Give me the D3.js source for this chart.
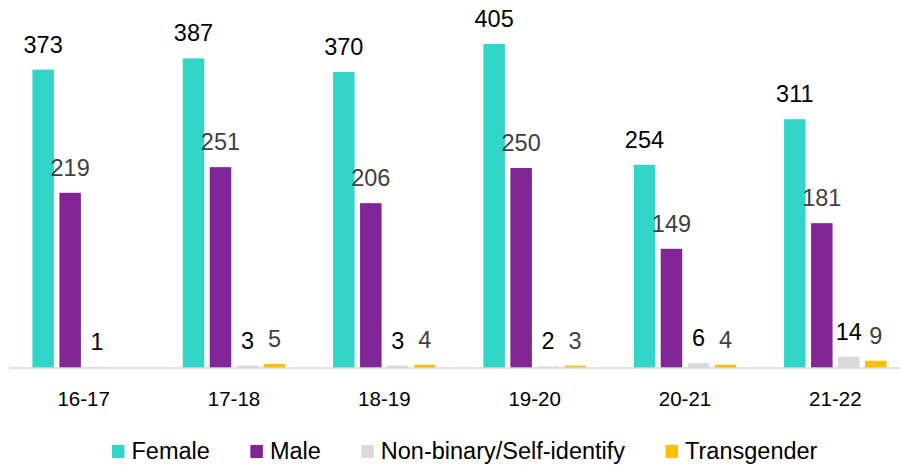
<!DOCTYPE html>
<html>
<head>
<meta charset="utf-8">
<script src="https://cdn.jsdelivr.net/npm/d3@7"></script>
<style>
  html, body { margin: 0; padding: 0; background: #fff; }
  svg { display: block; font-family: "Liberation Sans", Arial, sans-serif; }
</style>
</head>
<body>
<svg id="chart" width="900" height="465"></svg>
<script>
// Academic years on the x axis
const years = ["16-17", "17-18", "18-19", "19-20", "20-21", "21-22"];

// Counts per gender group
const female      = [373, 387, 370, 405, 254, 311];
const male        = [219, 251, 206, 250, 149, 181];
const nonBinary   = [1, 3, 3, 2, 6, 14];
const transgender = [null, 5, 4, 3, 4, 9];

const seriesNames  = ["Female", "Male", "Non-binary/Self-identify", "Transgender"];
const seriesValues = [female, male, nonBinary, transgender];
const seriesColors = ["#31d6c8", "#7f2596", "#d9d9d9", "#ffc000"];
const labelColors  = ["#000000", "#404040", "#000000", "#404040"];

const svg = d3.select("#chart");
const baseline = 368;

const x0 = d3.scaleBand().domain(years).range([8.5, 910.5]).padding(0);
const x1 = d3.scaleBand().domain(d3.range(seriesNames.length))
  .range([23.9, 126.4]).paddingInner(0.2037).paddingOuter(0);
const y = d3.scaleLinear().domain([0, 460]).range([baseline, 0]);

// Bars and their value labels
const groups = svg.append("g").selectAll("g")
  .data(years)
  .join("g")
  .attr("transform", d => `translate(${x0(d)},0)`);

groups.each(function(year, i) {
  const g = d3.select(this);
  const cells = seriesValues.map((vals, s) => ({ s, v: vals[i] })).filter(c => c.v != null);
  g.selectAll("rect")
    .data(cells)
    .join("rect")
    .attr("x", c => x1(c.s))
    .attr("width", x1.bandwidth())
    .attr("y", c => y(c.v))
    .attr("height", c => baseline - y(c.v))
    .attr("fill", c => seriesColors[c.s]);
  g.selectAll("text")
    .data(cells)
    .join("text")
    .attr("x", c => x1(c.s) + x1.bandwidth() / 2)
    .attr("y", c => y(c.v) - 17)
    .attr("text-anchor", "middle")
    .attr("font-size", 23.5)
    .attr("fill", c => labelColors[c.s])
    .text(c => c.v);
});

// Category axis
const axis = svg.append("g")
  .attr("transform", `translate(0,${baseline})`)
  .call(d3.axisBottom(x0).tickSize(0).tickPadding(0));
axis.select(".domain").attr("stroke", "#d9d9d9").attr("stroke-width", 1.5)
  .attr("d", "M9,0H900");
axis.selectAll(".tick text")
  .attr("y", 38)
  .attr("dy", null)
  .attr("font-size", 20.5)
  .attr("font-family", "'Liberation Sans', Arial, sans-serif")
  .attr("fill", "#000");

// Legend
const legend = svg.append("g").attr("transform", "translate(112,0)");
let lx = 0;
seriesNames.forEach((name, s) => {
  const item = legend.append("g").attr("transform", `translate(${lx},0)`);
  item.append("rect").attr("x", 0).attr("y", 445).attr("width", 12.5).attr("height", 13)
    .attr("fill", seriesColors[s]);
  const t = item.append("text").attr("x", 19.5).attr("y", 458.5)
    .attr("font-size", 23.5).attr("fill", "#000").text(name);
  lx += 19.5 + t.node().getComputedTextLength() + 40.5;
});
</script>
</body>
</html>
